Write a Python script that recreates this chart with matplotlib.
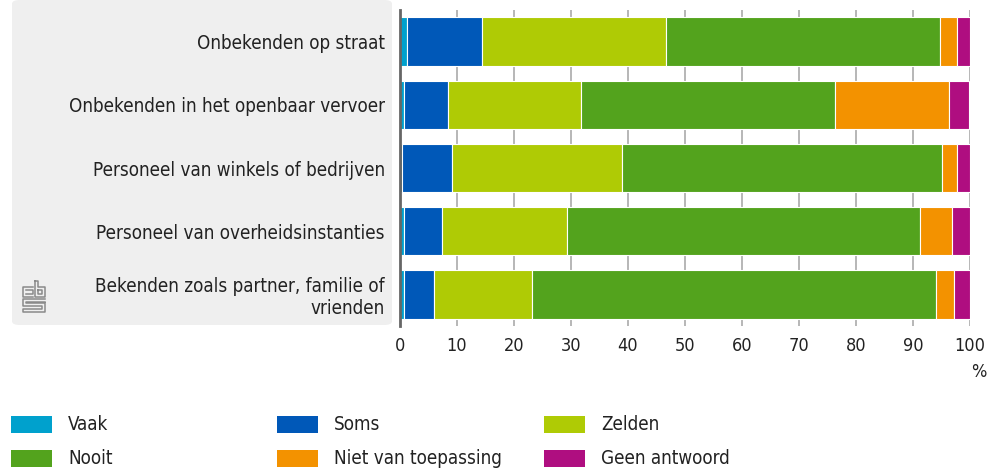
import matplotlib.pyplot as plt
from matplotlib.lines import Line2D
from matplotlib.patches import FancyBboxPatch, Rectangle

plt.rcParams["font.family"] = ["DejaVu Sans"]
plt.rcParams["font.stretch"] = "condensed"

categories = [
    "Onbekenden op straat",
    "Onbekenden in het openbaar vervoer",
    "Personeel van winkels of bedrijven",
    "Personeel van overheidsinstanties",
    "Bekenden zoals partner, familie of\nvrienden",
]
series = ["Vaak", "Soms", "Zelden", "Nooit", "Niet van toepassing", "Geen antwoord"]
vaak = [1.3, 0.7, 0.4, 0.7, 0.7]
soms = [13.1, 7.8, 8.8, 6.6, 5.3]
zelden = [32.3, 23.3, 29.8, 22.0, 17.1]
nooit = [48.0, 44.5, 56.0, 61.9, 70.9]
niet = [3.1, 20.0, 2.8, 5.7, 3.2]
geen = [2.2, 3.5, 2.2, 3.1, 2.8]
values = [vaak, soms, zelden, nooit, niet, geen]
colors = ["#00a1cd", "#0058b8", "#afcb05", "#53a31d", "#f39200", "#af0e80"]

W, H = 996, 470
fig = plt.figure(figsize=(W / 100, H / 100), dpi=100)


def px(x, y):
    return x / W, 1 - y / H


# grey label panel
panel = FancyBboxPatch(px(12, 325), 380 / W, 325 / H,
                       boxstyle="round,pad=0,rounding_size=0.008",
                       transform=fig.transFigure, facecolor="#efefef",
                       edgecolor="none", zorder=0)
fig.patches.append(panel)

# small cbs logo (rough outline)
logo = [
    [(33, 287), (23, 287), (23, 297), (33, 297)],               # c
    [(26, 290), (33, 290), (33, 294), (26, 294)],
    [(35, 281), (35, 297), (45, 297), (45, 287), (38, 287), (38, 281), (35, 281)],  # b
    [(38, 290), (42, 290), (42, 294), (38, 294), (38, 290)],
    [(45, 299), (23, 299), (23, 306), (42, 306), (42, 309), (23, 309), (23, 312), (45, 312), (45, 303), (26, 303), (26, 302), (45, 302)],  # s
]
for seg in logo:
    xs = [p[0] / W for p in seg]
    ys = [1 - p[1] / H for p in seg]
    fig.lines.append(Line2D(xs, ys, transform=fig.transFigure,
                            color="#8a8a8a", linewidth=1.1))

ax = fig.add_axes([400 / W, 1 - 326 / H, 570 / W, 316 / H])
ax.set_facecolor("none")
ax.set_zorder(2)

y = list(range(len(categories)))
left = [0.0] * len(categories)
for name, vals, col in zip(series, values, colors):
    ax.barh(y, vals, left=left, height=0.765, color=col,
            edgecolor="white", linewidth=0.8, label=name, zorder=3)
    left = [l + v for l, v in zip(left, vals)]

ax.set_xlim(0, 100)
ax.set_ylim(4.5, -0.5)
ax.set_xticks(range(0, 101, 10))
ax.set_yticks(y)
ax.set_yticklabels(categories, fontsize=13.5, color="#222222",
                   linespacing=1.15)
ax.tick_params(axis="y", length=0, pad=11)
ax.tick_params(axis="x", length=0, pad=8, labelsize=13,
               labelcolor="#222222")
ax.grid(axis="x", color="#aaaaaa", linewidth=1.2, zorder=0)
for s in ["top", "right", "bottom"]:
    ax.spines[s].set_visible(False)
ax.spines["left"].set_color("#666666")
ax.spines["left"].set_linewidth(2)
ax.spines["left"].set_zorder(4)

fig.text(*px(979, 372), "%", fontsize=13, color="#222222",
         ha="center", va="center")

# legend
leg_x = [11, 277, 544]
leg_y = [424, 458.5]
for i, (name, col) in enumerate(zip(series, colors)):
    cx = leg_x[i % 3]
    cy = leg_y[i // 3]
    fig.patches.append(Rectangle(px(cx, cy + 8.5), 41 / W, 17 / H,
                                 transform=fig.transFigure, facecolor=col,
                                 edgecolor="none"))
    fig.text(*px(cx + 57, cy), name, fontsize=13.5,
             color="#222222", ha="left", va="center")

fig.savefig("out.png", dpi=100)
